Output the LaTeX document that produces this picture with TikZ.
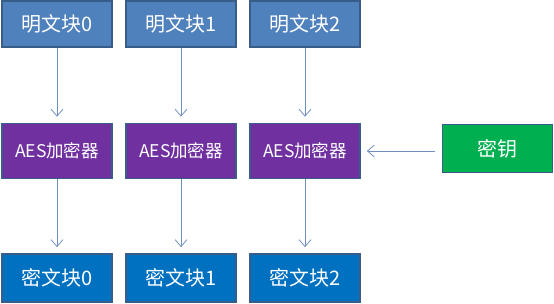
\documentclass[tikz,border=0pt]{standalone}
\usepackage{fontspec}
\setmainfont{Noto Sans CJK SC}
\usetikzlibrary{arrows.meta}
\definecolor{topblue}{HTML}{4F81BD}
\definecolor{edgeblue}{HTML}{385D8A}
\definecolor{aespurple}{HTML}{7030A0}
\definecolor{keygreen}{HTML}{00B050}
\definecolor{botblue}{HTML}{0070C0}
\definecolor{arrowblue}{HTML}{6E8FBF}
\tikzset{
  x=1pt,y=-1pt,
  box/.style={draw=edgeblue,line width=1.6pt,minimum width=110pt,text=white,inner sep=0pt,font=\fontsize{20}{23}\selectfont},
  plainbox/.style={box,fill=topblue,minimum height=46pt},
  aesbox/.style={box,fill=aespurple,minimum height=55pt,font=\fontsize{17.5}{20}\selectfont},
  keybox/.style={box,fill=keygreen,minimum height=48pt},
  cipherbox/.style={box,fill=botblue,minimum height=48pt},
  conn/.style={draw=arrowblue,line width=0.8pt,-{Straight Barb[length=7pt,width=12pt,line width=0.8pt]},shorten >=6pt}
}
\begin{document}
\begin{tikzpicture}
\useasboundingbox (0,0) rectangle (554,303);
\node[plainbox] (p0) at (57,24) {明文块0};
\node[plainbox] (p1) at (181,24) {明文块1};
\node[plainbox] (p2) at (305,24) {明文块2};
\node[aesbox] (a0) at (57,151) {AES加密器};
\node[aesbox] (a1) at (181,151) {AES加密器};
\node[aesbox] (a2) at (305,151) {AES加密器};
\node[keybox] (k) at (497.5,148.5) {密钥};
\node[cipherbox] (c0) at (57,278) {密文块0};
\node[cipherbox] (c1) at (181,278) {密文块1};
\node[cipherbox] (c2) at (305,278) {密文块2};
\draw[conn] (p0) -- (a0);
\draw[conn] (p1) -- (a1);
\draw[conn] (p2) -- (a2);
\draw[conn] (a0) -- (c0);
\draw[conn] (a1) -- (c1);
\draw[conn] (a2) -- (c2);
\draw[conn,shorten <=7pt] (k.west |- a2.east) -- (a2.east);
\end{tikzpicture}
\end{document}
